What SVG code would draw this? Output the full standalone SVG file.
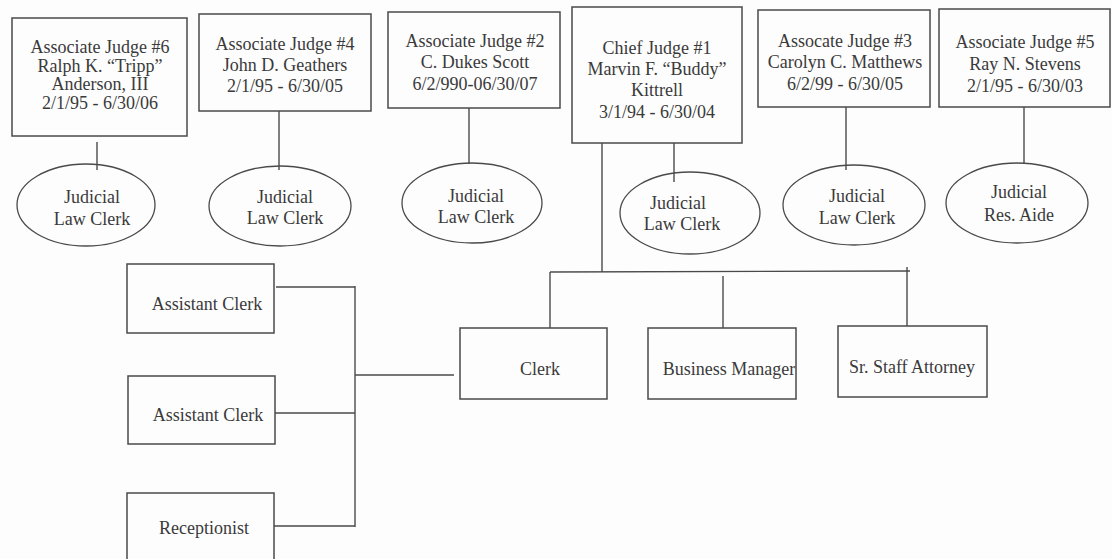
<svg xmlns="http://www.w3.org/2000/svg" width="1112" height="559" viewBox="0 0 1112 559">
<defs>
<style>
.box{fill:none;stroke:#4a4a4a;stroke-width:1.5}
.ell{fill:none;stroke:#4a4a4a;stroke-width:1.3}
.ln{fill:none;stroke:#4a4a4a;stroke-width:1.4}
.t{font-family:'Liberation Serif','DejaVu Serif',serif;font-size:18px;fill:#3a3a3a;text-anchor:middle}
</style>
</defs>
<rect width="1112" height="559" fill="#fdfdfd"/>
<g id="connectors">
<line class="ln" x1="97" y1="142" x2="97" y2="170"/>
<line class="ln" x1="279" y1="111" x2="279" y2="170"/>
<line class="ln" x1="469" y1="108" x2="469" y2="164"/>
<line class="ln" x1="674" y1="143" x2="674" y2="182"/>
<line class="ln" x1="846" y1="107" x2="846" y2="170"/>
<line class="ln" x1="1024" y1="107" x2="1024" y2="164"/>
<line class="ln" x1="602" y1="143" x2="602" y2="272"/>
<line class="ln" x1="550" y1="272" x2="910" y2="271"/>
<line class="ln" x1="550" y1="272" x2="550" y2="328"/>
<line class="ln" x1="723" y1="276" x2="723" y2="328"/>
<line class="ln" x1="907" y1="267" x2="907" y2="326"/>
<line class="ln" x1="276" y1="287" x2="355" y2="287"/>
<line class="ln" x1="275" y1="413" x2="355" y2="413"/>
<line class="ln" x1="274" y1="526" x2="355" y2="526"/>
<line class="ln" x1="355" y1="286" x2="355" y2="527"/>
<line class="ln" x1="355" y1="375" x2="454" y2="375"/>
</g>
<g id="judge6" class="t"><rect class="box" x="12" y="18" width="175" height="118"/>
<text x="100" y="53">Associate Judge #6</text><text x="100" y="71.5">Ralph K. “Tripp”</text><text x="100" y="90">Anderson, III</text><text x="100" y="108.5">2/1/95 - 6/30/06</text></g>
<g id="judge4" class="t"><rect class="box" x="199" y="14" width="172" height="97"/>
<text x="285" y="50">Associate Judge #4</text><text x="285" y="71">John D. Geathers</text><text x="285" y="92">2/1/95 - 6/30/05</text></g>
<g id="judge2" class="t"><rect class="box" x="388" y="12" width="172" height="96"/>
<text x="475" y="47">Associate Judge #2</text><text x="475" y="68">C. Dukes Scott</text><text x="475" y="90">6/2/990-06/30/07</text></g>
<g id="chief" class="t"><rect class="box" x="572" y="7" width="170" height="136"/>
<text x="657" y="54">Chief Judge #1</text><text x="657" y="75">Marvin F. “Buddy”</text><text x="657" y="96">Kittrell</text><text x="657" y="118">3/1/94 - 6/30/04</text></g>
<g id="judge3" class="t"><rect class="box" x="758" y="10" width="172" height="97"/>
<text x="845" y="47">Assocate Judge #3</text><text x="845" y="68">Carolyn C. Matthews</text><text x="845" y="90">6/2/99 - 6/30/05</text></g>
<g id="judge5" class="t"><rect class="box" x="939" y="9" width="171" height="98"/>
<text x="1025" y="48">Associate Judge #5</text><text x="1025" y="70">Ray N. Stevens</text><text x="1025" y="92">2/1/95 - 6/30/03</text></g>
<g id="clerk6" class="t"><ellipse class="ell" cx="86" cy="205" rx="69" ry="41"/><text x="92" y="203">Judicial</text><text x="92" y="225">Law Clerk</text></g>
<g id="clerk4" class="t"><ellipse class="ell" cx="280" cy="206" rx="71" ry="40"/><text x="285" y="203">Judicial</text><text x="285" y="224">Law Clerk</text></g>
<g id="clerk2" class="t"><ellipse class="ell" cx="472" cy="203" rx="70" ry="40"/><text x="476" y="202">Judicial</text><text x="476" y="223">Law Clerk</text></g>
<g id="clerk1" class="t"><ellipse class="ell" cx="690" cy="213" rx="70" ry="41"/><text x="678" y="209">Judicial</text><text x="682" y="230">Law Clerk</text></g>
<g id="clerk3" class="t"><ellipse class="ell" cx="854" cy="205" rx="71" ry="40"/><text x="857" y="202">Judicial</text><text x="857" y="224">Law Clerk</text></g>
<g id="aide5" class="t"><ellipse class="ell" cx="1017" cy="203" rx="71" ry="40"/><text x="1019" y="198">Judicial</text><text x="1019" y="221">Res. Aide</text></g>
<g id="asst1" class="t"><rect class="box" x="127" y="264" width="147" height="69"/><text x="207" y="310">Assistant Clerk</text></g>
<g id="asst2" class="t"><rect class="box" x="128" y="376" width="147" height="68"/><text x="208" y="421">Assistant Clerk</text></g>
<g id="recep" class="t"><rect class="box" x="127" y="493" width="147" height="70"/><text x="204" y="534">Receptionist</text></g>
<g id="clerk" class="t"><rect class="box" x="460" y="328" width="147" height="71"/><text x="540" y="375">Clerk</text></g>
<g id="bizmgr" class="t"><rect class="box" x="648" y="328" width="148" height="71"/><text x="729" y="375">Business Manager</text></g>
<g id="staffatty" class="t"><rect class="box" x="838" y="326" width="149" height="71"/><text x="912" y="373">Sr. Staff Attorney</text></g>
</svg>
